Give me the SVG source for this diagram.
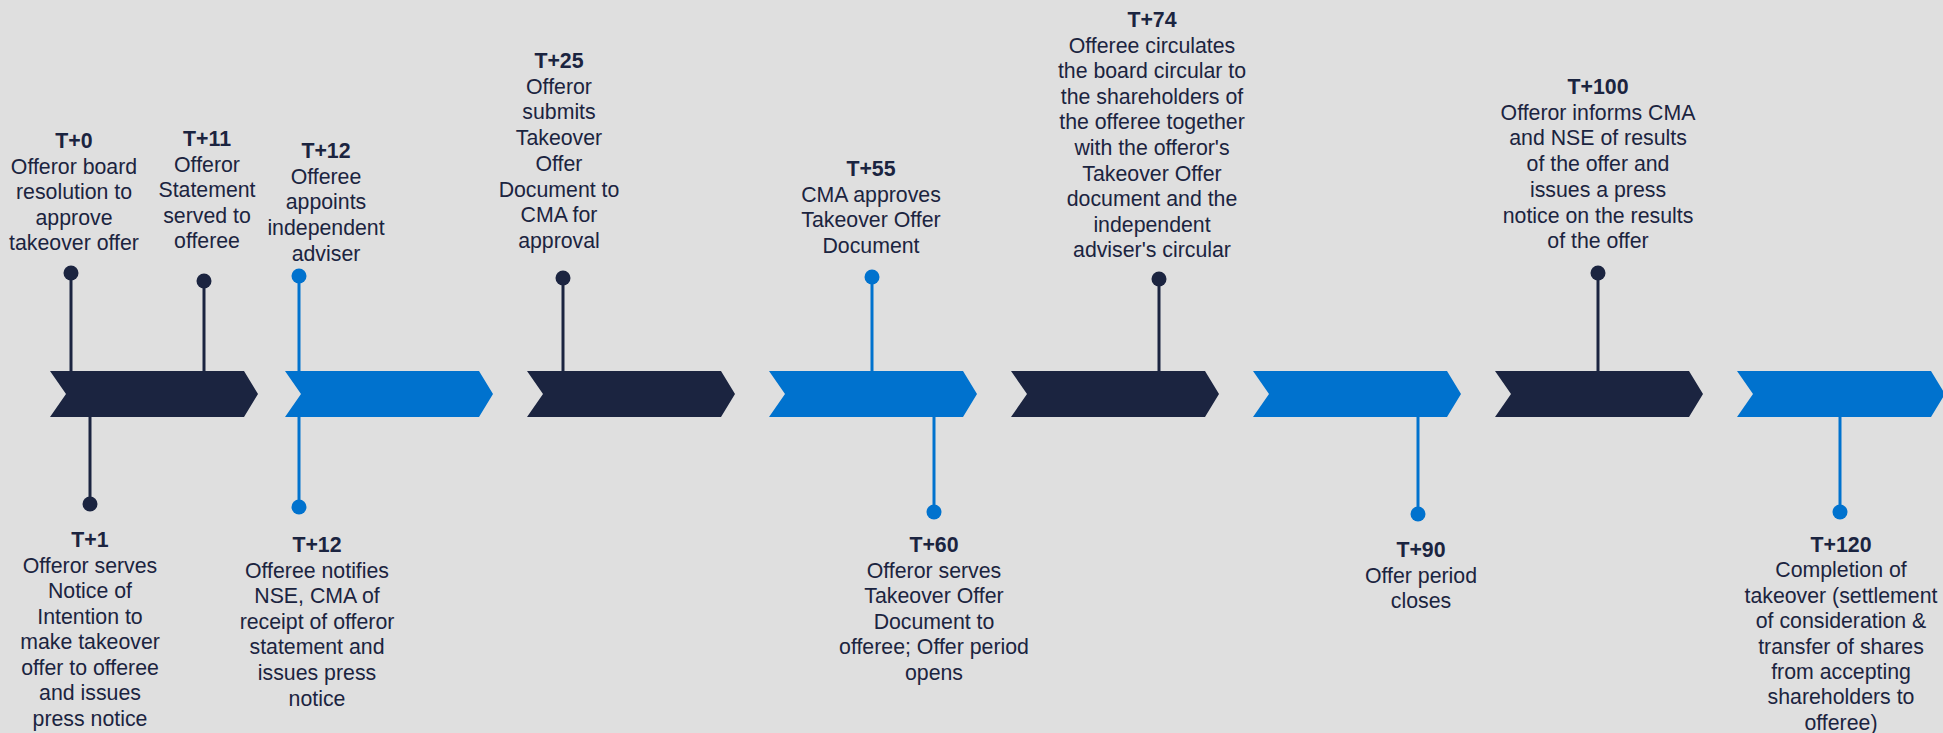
<svg xmlns="http://www.w3.org/2000/svg" width="1943" height="733" viewBox="0 0 1943 733">
<defs>
<style>
.navy{fill:#1B2440}
.blue{fill:#0072CE}
.sn{stroke:#1B2440;stroke-width:3;fill:none}
.sb{stroke:#0072CE;stroke-width:3;fill:none}
text{font-family:"Liberation Sans",Arial,sans-serif;font-size:21.3px;fill:#1B2440;text-anchor:middle}
.t{font-weight:bold}
</style>
<polygon id="chev" points="0,371 194,371 208,394 194,417 0,417 16,394"/>
</defs>
<rect width="1943" height="733" fill="#DFDFDF"/>
<g id="timeline">
<use id="chev1" href="#chev" x="50" class="navy"/>
<use id="chev2" href="#chev" x="285" class="blue"/>
<use id="chev3" href="#chev" x="527" class="navy"/>
<use id="chev4" href="#chev" x="769" class="blue"/>
<use id="chev5" href="#chev" x="1011" class="navy"/>
<use id="chev6" href="#chev" x="1253" class="blue"/>
<use id="chev7" href="#chev" x="1495" class="navy"/>
<use id="chev8" href="#chev" x="1737" class="blue"/>
</g>
<g id="connectors">
<line class="sn" x1="71" y1="273" x2="71" y2="372"/>
<line class="sn" x1="204" y1="281" x2="204" y2="372"/>
<line class="sb" x1="299" y1="276" x2="299" y2="372"/>
<line class="sn" x1="563" y1="278" x2="563" y2="372"/>
<line class="sb" x1="872" y1="277" x2="872" y2="372"/>
<line class="sn" x1="1159" y1="279" x2="1159" y2="372"/>
<line class="sn" x1="1598" y1="273" x2="1598" y2="372"/>
<line class="sn" x1="90" y1="416" x2="90" y2="504"/>
<line class="sb" x1="299" y1="416" x2="299" y2="507"/>
<line class="sb" x1="934" y1="416" x2="934" y2="512"/>
<line class="sb" x1="1418" y1="416" x2="1418" y2="514"/>
<line class="sb" x1="1840" y1="416" x2="1840" y2="512"/>
</g>
<g id="e-t0">
<circle class="navy" cx="71" cy="273" r="7.5"/>
<text x="74" y="148"><tspan class="t">T+0</tspan><tspan x="74" dy="25.5">Offeror board</tspan><tspan x="74" dy="25.5">resolution to</tspan><tspan x="74" dy="25.5">approve</tspan><tspan x="74" dy="25.5">takeover offer</tspan></text>
</g>
<g id="e-t11">
<circle class="navy" cx="204" cy="281" r="7.5"/>
<text x="207" y="146"><tspan class="t">T+11</tspan><tspan x="207" dy="25.5">Offeror</tspan><tspan x="207" dy="25.5">Statement</tspan><tspan x="207" dy="25.5">served to</tspan><tspan x="207" dy="25.5">offeree</tspan></text>
</g>
<g id="e-t12a">
<circle class="blue" cx="299" cy="276" r="7.5"/>
<text x="326" y="158"><tspan class="t">T+12</tspan><tspan x="326" dy="25.7">Offeree</tspan><tspan x="326" dy="25.7">appoints</tspan><tspan x="326" dy="25.7">independent</tspan><tspan x="326" dy="25.7">adviser</tspan></text>
</g>
<g id="e-t1">
<circle class="navy" cx="90" cy="504" r="7.5"/>
<text x="90" y="547"><tspan class="t">T+1</tspan><tspan x="90" dy="25.5">Offeror serves</tspan><tspan x="90" dy="25.5">Notice of</tspan><tspan x="90" dy="25.5">Intention to</tspan><tspan x="90" dy="25.5">make takeover</tspan><tspan x="90" dy="25.5">offer to offeree</tspan><tspan x="90" dy="25.5">and issues</tspan><tspan x="90" dy="25.5">press notice</tspan></text>
</g>
<g id="e-t12b">
<circle class="blue" cx="299" cy="507" r="7.5"/>
<text x="317" y="552"><tspan class="t">T+12</tspan><tspan x="317" dy="25.6">Offeree notifies</tspan><tspan x="317" dy="25.6">NSE, CMA of</tspan><tspan x="317" dy="25.6">receipt of offeror</tspan><tspan x="317" dy="25.6">statement and</tspan><tspan x="317" dy="25.6">issues press</tspan><tspan x="317" dy="25.6">notice</tspan></text>
</g>
<g id="e-t25">
<circle class="navy" cx="563" cy="278" r="7.5"/>
<text x="559" y="68"><tspan class="t">T+25</tspan><tspan x="559" dy="25.7">Offeror</tspan><tspan x="559" dy="25.7">submits</tspan><tspan x="559" dy="25.7">Takeover</tspan><tspan x="559" dy="25.7">Offer</tspan><tspan x="559" dy="25.7">Document to</tspan><tspan x="559" dy="25.7">CMA for</tspan><tspan x="559" dy="25.7">approval</tspan></text>
</g>
<g id="e-t55">
<circle class="blue" cx="872" cy="277" r="7.5"/>
<text x="871" y="176"><tspan class="t">T+55</tspan><tspan x="871" dy="25.7">CMA approves</tspan><tspan x="871" dy="25.7">Takeover Offer</tspan><tspan x="871" dy="25.7">Document</tspan></text>
</g>
<g id="e-t60">
<circle class="blue" cx="934" cy="512" r="7.5"/>
<text x="934" y="552"><tspan class="t">T+60</tspan><tspan x="934" dy="25.5">Offeror serves</tspan><tspan x="934" dy="25.5">Takeover Offer</tspan><tspan x="934" dy="25.5">Document to</tspan><tspan x="934" dy="25.5">offeree; Offer period</tspan><tspan x="934" dy="25.5">opens</tspan></text>
</g>
<g id="e-t74">
<circle class="navy" cx="1159" cy="279" r="7.5"/>
<text x="1152" y="27"><tspan class="t">T+74</tspan><tspan x="1152" dy="25.6">Offeree circulates</tspan><tspan x="1152" dy="25.6">the board circular to</tspan><tspan x="1152" dy="25.6">the shareholders of</tspan><tspan x="1152" dy="25.6">the offeree together</tspan><tspan x="1152" dy="25.6">with the offeror's</tspan><tspan x="1152" dy="25.6">Takeover Offer</tspan><tspan x="1152" dy="25.6">document and the</tspan><tspan x="1152" dy="25.6">independent</tspan><tspan x="1152" dy="25.6">adviser's circular</tspan></text>
</g>
<g id="e-t90">
<circle class="blue" cx="1418" cy="514" r="7.5"/>
<text x="1421" y="557"><tspan class="t">T+90</tspan><tspan x="1421" dy="25.5">Offer period</tspan><tspan x="1421" dy="25.5">closes</tspan></text>
</g>
<g id="e-t100">
<circle class="navy" cx="1598" cy="273" r="7.5"/>
<text x="1598" y="94"><tspan class="t">T+100</tspan><tspan x="1598" dy="25.7">Offeror informs CMA</tspan><tspan x="1598" dy="25.7">and NSE of results</tspan><tspan x="1598" dy="25.7">of the offer and</tspan><tspan x="1598" dy="25.7">issues a press</tspan><tspan x="1598" dy="25.7">notice on the results</tspan><tspan x="1598" dy="25.7">of the offer</tspan></text>
</g>
<g id="e-t120">
<circle class="blue" cx="1840" cy="512" r="7.5"/>
<text x="1841" y="552"><tspan class="t">T+120</tspan><tspan x="1841" dy="25.4">Completion of</tspan><tspan x="1841" dy="25.4">takeover (settlement</tspan><tspan x="1841" dy="25.4">of consideration &amp;</tspan><tspan x="1841" dy="25.4">transfer of shares</tspan><tspan x="1841" dy="25.4">from accepting</tspan><tspan x="1841" dy="25.4">shareholders to</tspan><tspan x="1841" dy="25.4">offeree)</tspan></text>
</g>
</svg>
